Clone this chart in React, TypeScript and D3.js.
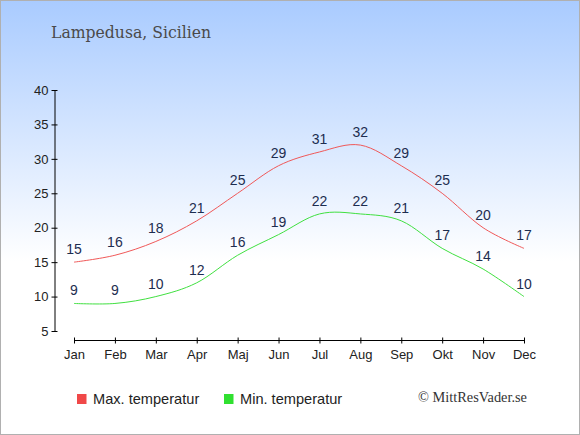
import { useEffect, useRef } from "react";
import * as d3 from "d3";

const months = ["Jan", "Feb", "Mar", "Apr", "Maj", "Jun", "Jul", "Aug", "Sep", "Okt", "Nov", "Dec"];
const maxTemp = [15, 16, 18, 21, 25, 29, 31, 32, 29, 25, 20, 17];
const minTemp = [9, 9, 10, 12, 16, 19, 22, 22, 21, 17, 14, 10];
const yTicks = [5, 10, 15, 20, 25, 30, 35, 40];

const W = 580;
const H = 435;

function App() {
    const svgRef = useRef<SVGSVGElement>(null);

    useEffect(() => {
        const svg = d3.select(svgRef.current!);
        svg.selectAll("*").remove();

        const defs = svg.append("defs");
        const grad = defs.append("linearGradient")
            .attr("id", "bg").attr("x1", 0).attr("y1", 0).attr("x2", 0).attr("y2", 1);
        grad.append("stop").attr("offset", "0%").attr("stop-color", "#a9cbff");
        grad.append("stop").attr("offset", "60%").attr("stop-color", "#ffffff");
        grad.append("stop").attr("offset", "100%").attr("stop-color", "#ffffff");

        svg.append("rect").attr("width", W).attr("height", H).attr("fill", "url(#bg)");
        svg.append("rect").attr("x", 0.5).attr("y", 0.5).attr("width", W - 1).attr("height", H - 1)
            .attr("fill", "none").attr("stroke", "#b0b0b0");

        svg.append("text").attr("x", 51).attr("y", 38)
            .attr("font-family", "'DejaVu Serif', serif").attr("font-size", 16).attr("fill", "#4a4a4a")
            .attr("textLength", 160).attr("lengthAdjust", "spacingAndGlyphs")
            .text("Lampedusa, Sicilien");

        const x = d3.scalePoint<string>().domain(months).range([74, 524]);
        const y = d3.scaleLinear().domain([5, 40]).range([331, 90]);

        const yAxis = svg.append("g").attr("transform", "translate(54.5,0)")
            .call(d3.axisLeft(y).tickValues(yTicks).tickSize(3).tickSizeOuter(0));
        yAxis.selectAll(".tick line").attr("x2", 3).attr("x1", -3);
        const xAxis = svg.append("g").attr("transform", "translate(0,340.5)")
            .call(d3.axisBottom(x).tickSize(3).tickSizeOuter(0));
        xAxis.selectAll(".tick line").attr("y1", -3).attr("y2", 3);
        xAxis.select(".domain").attr("d", `M${x("Jan")},0H${x("Dec")}`);
        for (const g of [xAxis, yAxis]) {
            g.selectAll("text").attr("font-family", "'Liberation Sans', Arial, sans-serif")
                .attr("font-size", 13).attr("fill", "#222");
            g.selectAll("line, path").attr("stroke", "#000");
        }
        yAxis.selectAll("text").attr("x", -6);
        xAxis.selectAll("text").attr("y", 9);

        const line = d3.line<number>()
            .x((_, i) => x(months[i])!)
            .y(d => y(d))
            .curve(d3.curveCardinal);

        const series = [
            { data: maxTemp, color: "#f05858" },
            { data: minTemp, color: "#40e040" },
        ];
        for (const s of series) {
            svg.append("path").attr("d", line(s.data)).attr("fill", "none")
                .attr("stroke", s.color).attr("stroke-width", 1);
            svg.append("g").selectAll("text").data(s.data).join("text")
                .attr("x", (_, i) => x(months[i])!)
                .attr("y", d => y(d) - 8)
                .attr("text-anchor", "middle")
                .attr("font-family", "'Liberation Sans', Arial, sans-serif")
                .attr("font-size", 14).attr("fill", "#1d2d50")
                .text(d => d);
        }

        const legend = [
            { label: "Max. temperatur", color: "#f04848", x: 77 },
            { label: "Min. temperatur", color: "#30e030", x: 224 },
        ];
        for (const l of legend) {
            svg.append("rect").attr("x", l.x).attr("y", 394).attr("width", 9.5).attr("height", 10).attr("fill", l.color);
            svg.append("text").attr("x", l.x + 16).attr("y", 403.5)
                .attr("font-family", "'Liberation Sans', Arial, sans-serif")
                .attr("font-size", 14.6).attr("fill", "#222").text(l.label);
        }
        svg.append("text").attr("x", 418).attr("y", 401.5)
            .attr("font-family", "'Liberation Serif', serif").attr("font-size", 14).attr("fill", "#333")
            .attr("textLength", 109).attr("lengthAdjust", "spacingAndGlyphs")
            .text("© MittResVader.se");
    }, []);

    return (
        <div style={{ position: "absolute", left: 0, top: 0 }}>
            <svg ref={svgRef} width={W} height={H} style={{ display: "block" }} />
        </div>
    );
}

export default App;
